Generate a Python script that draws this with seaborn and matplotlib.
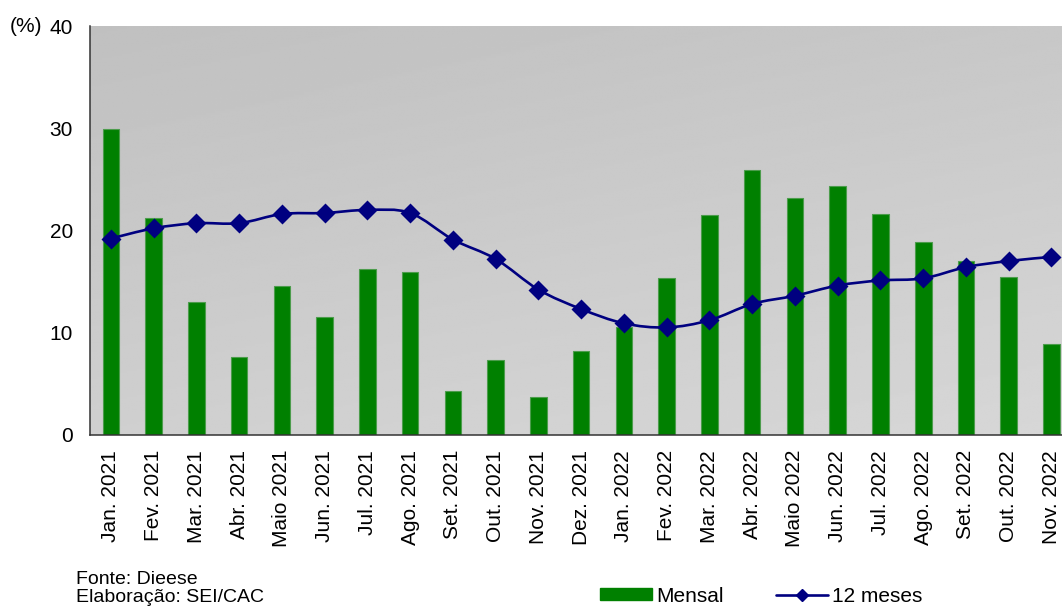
import numpy as np
import pandas as pd
import matplotlib
matplotlib.use('Agg')
import matplotlib.pyplot as plt
import seaborn as sns
from matplotlib.path import Path
from matplotlib.patches import PathPatch, Patch
from matplotlib.lines import Line2D

months = ['Jan. 2021', 'Fev. 2021', 'Mar. 2021', 'Abr. 2021', 'Maio 2021', 'Jun. 2021',
          'Jul. 2021', 'Ago. 2021', 'Set. 2021', 'Out. 2021', 'Nov. 2021', 'Dez. 2021',
          'Jan. 2022', 'Fev. 2022', 'Mar. 2022', 'Abr. 2022', 'Maio 2022', 'Jun. 2022',
          'Jul. 2022', 'Ago. 2022', 'Set. 2022', 'Out. 2022', 'Nov. 2022']
mensal = [29.9, 21.2, 13.0, 7.6, 14.6, 11.5, 16.2, 15.9, 4.3, 7.3, 3.7, 8.2,
          10.5, 15.3, 21.5, 25.9, 23.2, 24.3, 21.6, 18.9, 17.0, 15.4, 8.9]
doze_meses = [19.2, 20.2, 20.7, 20.7, 21.6, 21.7, 22.0, 21.7, 19.1, 17.2, 14.2, 12.3,
              10.9, 10.5, 11.2, 12.8, 13.6, 14.6, 15.1, 15.3, 16.4, 17.0, 17.4]
yticks = [0, 10, 20, 30, 40]

bar_color = '#008000'
line_color = '#000080'

sns.set_style('white')
plt.rcParams['font.family'] = ['Liberation Sans', 'DejaVu Sans']
plt.rcParams['text.color'] = 'black'
plt.rcParams['xtick.labelcolor'] = 'black'
plt.rcParams['ytick.labelcolor'] = 'black'

df = pd.DataFrame({'mes': months, 'mensal': mensal, 'doze': doze_meses})

fig = plt.figure(figsize=(10.62, 6.07), dpi=100)
ax = fig.add_axes([89.5 / 1062, 1 - 434.7 / 607, 983.3 / 1062, 408.7 / 607])

# gradient background, darker at top left
n = len(months)
gx, gy = np.meshgrid(np.linspace(0, 1, 200), np.linspace(0, 1, 200))
grad = 0.753 + 0.03 * gx + 0.06 * gy
ax.imshow(grad, cmap='gray', vmin=0, vmax=1, extent=[-0.5, n - 0.5, 0, 40],
          origin='upper', aspect='auto', zorder=0, interpolation='bilinear')

sns.barplot(data=df, x='mes', y='mensal', color=bar_color, saturation=1, width=0.39,
            edgecolor='#4c9c4c', linewidth=0.8, ax=ax, zorder=2)

# smoothed line (bezier through the 12-month values)
xs = np.arange(n)
ys = np.array(doze_meses)
verts = [(xs[0], ys[0])]
codes = [Path.MOVETO]
for i in range(n - 1):
    p0 = np.array([xs[max(i - 1, 0)], ys[max(i - 1, 0)]])
    p1 = np.array([xs[i], ys[i]])
    p2 = np.array([xs[i + 1], ys[i + 1]])
    p3 = np.array([xs[min(i + 2, n - 1)], ys[min(i + 2, n - 1)]])
    c1 = p1 + (p2 - p0) / 6
    c2 = p2 - (p3 - p1) / 6
    verts += [tuple(c1), tuple(c2), tuple(p2)]
    codes += [Path.CURVE4] * 3
ax.add_patch(PathPatch(Path(verts, codes), fill=False, edgecolor=line_color,
                       linewidth=1.9, zorder=3))

sns.pointplot(data=df, x='mes', y='doze', color=line_color, markers='D',
              linestyle='none', markersize=8.3, errorbar=None, ax=ax, zorder=4)

ax.set_xlim(-0.5, n - 0.5)
ax.set_ylim(0, 40)
ax.set_yticks(yticks)
ax.set_xlabel('')
ax.set_ylabel('')
ax.set_xticks(np.arange(n))
ax.set_xticklabels(months, rotation=90, fontsize=15, color='black')
ax.set_xticks(np.arange(n + 1) - 0.5, minor=True)
ax.tick_params(axis='x', which='major', length=0, pad=11)
ax.tick_params(axis='x', which='minor', length=7, width=1, color='#333333', direction='out')
ax.tick_params(axis='y', length=5, width=1, color='#333333', direction='out', pad=7,
               labelsize=15, labelcolor='black')
for s in ['top', 'right']:
    ax.spines[s].set_visible(False)
for s in ['left', 'bottom']:
    ax.spines[s].set_color('#333333')
    ax.spines[s].set_linewidth(1.1)
ax.spines['left'].set_zorder(5)
ax.spines['bottom'].set_zorder(5)

fig.text(42 / 1062, 1 - 26 / 607, '(%)', fontsize=15, ha='right', va='center')

fig.text(76 / 1062, 1 - 584 / 607, 'Fonte: Dieese', fontsize=14, ha='left', va='baseline')
fig.text(76 / 1062, 1 - 602 / 607, 'Elaboração: SEI/CAC', fontsize=14, ha='left', va='baseline')

handles = [Patch(facecolor=bar_color, edgecolor=bar_color),
           Line2D([0], [0], color=line_color, lw=1.9, marker='D', markersize=6)]
fig.legend(handles, ['Mensal', '12 meses'], loc='center left',
           bbox_to_anchor=(600 / 1062, 1 - 596 / 607), ncol=2, frameon=False,
           fontsize=15, handlelength=2.5, handleheight=0.55, handletextpad=0.2,
           columnspacing=2.5, borderpad=0, borderaxespad=0)

fig.savefig('out.png', dpi=100)
